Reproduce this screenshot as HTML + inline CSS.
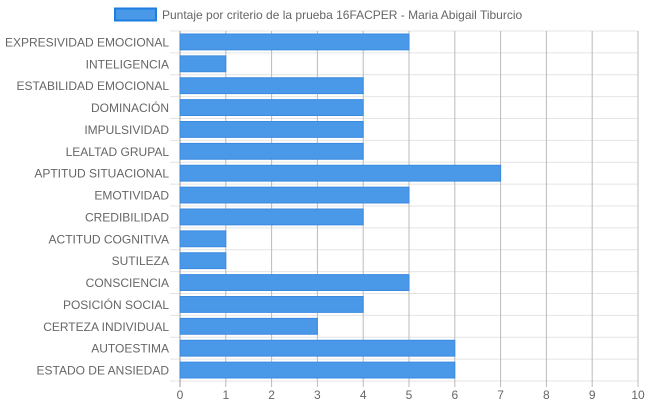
<!DOCTYPE html>
<html><head><meta charset="utf-8"><style>
body{margin:0;background:#fff;font-family:"Liberation Sans",sans-serif;}
</style></head><body>
<svg id="c" width="648" height="410" xmlns="http://www.w3.org/2000/svg" font-family="Liberation Sans, sans-serif">
<g>
<rect x="115" y="8.5" width="41" height="12" fill="#4a98e8" stroke="#1e7ee0" stroke-width="2"/>
<text x="162" y="19" font-size="12" fill="#666">Puntaje por criterio de la prueba 16FACPER - Maria Abigail Tiburcio</text>
</g>
<g id="grid"></g><g id="bars"></g><g id="labels"></g>
</svg>
<script>
const categories=["EXPRESIVIDAD EMOCIONAL","INTELIGENCIA","ESTABILIDAD EMOCIONAL","DOMINACIÓN","IMPULSIVIDAD","LEALTAD GRUPAL","APTITUD SITUACIONAL","EMOTIVIDAD","CREDIBILIDAD","ACTITUD COGNITIVA","SUTILEZA","CONSCIENCIA","POSICIÓN SOCIAL","CERTEZA INDIVIDUAL","AUTOESTIMA","ESTADO DE ANSIEDAD"];
const values=[5,1,4,4,4,4,7,5,4,1,1,5,4,3,6,6];
const ticks=[0,1,2,3,4,5,6,7,8,9,10];
const NS="http://www.w3.org/2000/svg";
const X0=180,X1=638,Y0=31,Y1=381,XMAX=10;
const band=(Y1-Y0)/categories.length;
const x=v=>X0+(X1-X0)*v/XMAX;
const y=i=>Y0+band*i;
function mk(t,a,p){const e=document.createElementNS(NS,t);for(const k in a)e.setAttribute(k,a[k]);p.appendChild(e);return e;}
const grid=document.getElementById('grid'),bars=document.getElementById('bars'),labels=document.getElementById('labels');
for(let i=0;i<=categories.length;i++){
 const l=mk('line',{x1:170,x2:X1,y1:y(i),y2:y(i),stroke:'#e4e4e4','stroke-width':1},grid);
 
 
}
ticks.forEach(t=>{
 const l=mk('line',{x1:x(t),x2:x(t),y1:Y0,y2:Y1+6,stroke:t==0?'#999':'#bbb','stroke-width':1},grid);
 
 
 const tx=mk('text',{x:x(t),y:Y1+18,'text-anchor':'middle','font-size':12,fill:'#666'},labels);
 tx.textContent=t;
 
 
});
categories.forEach((c,i)=>{
 const r=mk('rect',{x:X0,y:y(i)+3,width:x(values[i])-X0,height:band-6,fill:'#4a98e8',stroke:'#3b8ae0','stroke-width':1},bars);
 
 
 const tx=mk('text',{x:169,y:y(i)+band/2+4.5,'text-anchor':'end','font-size':12,fill:'#666'},labels);
 tx.textContent=c;
 
 
});
</script>
</body></html>
